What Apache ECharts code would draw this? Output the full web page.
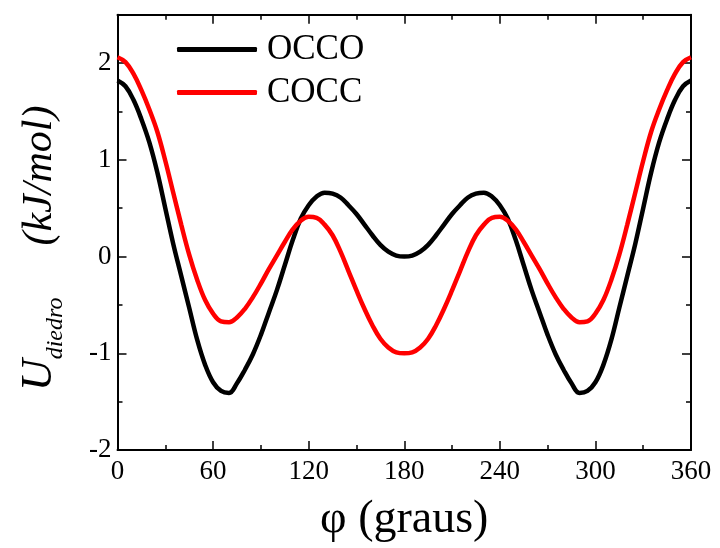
<!DOCTYPE html>
<html>
<head>
<meta charset="utf-8">
<script src="https://cdn.jsdelivr.net/npm/echarts@6/dist/echarts.min.js"></script>
<style>html,body{margin:0;padding:0;background:#fff;}#c{width:720px;height:548px;}</style>
</head>
<body>
<div id="c"></div>
<script>
const angles = [0,5,10,15,20,25,30,35,40,45,50,55,60,65,70,75,80,85,90,95,100,105,110,115,120,125,130,135,140,145,150,155,160,165,170,175,180,
  185,190,195,200,205,210,215,220,225,230,235,240,245,250,255,260,265,270,275,280,285,290,295,300,305,310,315,320,325,330,335,340,345,350,355,360];
const occo = [1.82,1.76,1.62,1.42,1.18,0.87,0.50,0.13,-0.20,-0.53,-0.86,-1.12,-1.30,-1.39,-1.41,-1.31,-1.17,-1.01,-0.81,-0.58,-0.35,-0.09,0.17,0.39,0.53,0.62,0.66,0.65,0.61,0.53,0.44,0.33,0.22,0.12,0.05,0.01,0.00,
  0.01,0.05,0.12,0.22,0.33,0.44,0.53,0.61,0.65,0.66,0.62,0.53,0.39,0.17,-0.09,-0.35,-0.58,-0.81,-1.01,-1.17,-1.31,-1.41,-1.39,-1.30,-1.12,-0.86,-0.53,-0.20,0.13,0.50,0.87,1.18,1.42,1.62,1.76,1.82];
const cocc = [2.06,2.01,1.89,1.72,1.52,1.29,0.99,0.66,0.33,0.02,-0.24,-0.45,-0.59,-0.67,-0.68,-0.63,-0.54,-0.42,-0.28,-0.13,0.01,0.15,0.28,0.37,0.41,0.40,0.33,0.22,0.05,-0.15,-0.35,-0.54,-0.71,-0.85,-0.94,-0.99,-1.00,
  -0.99,-0.94,-0.85,-0.71,-0.54,-0.35,-0.15,0.05,0.22,0.33,0.40,0.41,0.37,0.28,0.15,0.01,-0.13,-0.28,-0.42,-0.54,-0.63,-0.68,-0.67,-0.59,-0.45,-0.24,0.02,0.33,0.66,0.99,1.29,1.52,1.72,1.89,2.01,2.06];
const seriesNames = ['OCCO','COCC'];
const xTicks = {min:0, max:360, interval:60};
const yTicks = {min:-2, max:2.5, interval:1};

const font = '"Liberation Serif", "Times New Roman", serif';
const chart = echarts.init(document.getElementById('c'), null, {renderer:'canvas'});
const axisLine = {show:true, onZero:false, lineStyle:{color:'#000', width:2}};
const tickStyle = {show:true, inside:true, length:9, lineStyle:{color:'#000', width:1.5}};
const minorStyle = {show:true, splitNumber:2, length:5, lineStyle:{color:'#000', width:1.5}};
function pairs(vals){ return angles.map((a,i)=>[a, vals[i]]); }
chart.setOption({
  animation:false,
  backgroundColor:'#fff',
  grid:{left:117.5, right:29, top:14.7, bottom:93, containLabel:false},
  legend:{
    show:true, orient:'vertical', left:172, top:27, itemGap:8,
    itemWidth:80, itemHeight:5, icon:'roundRect',
    textStyle:{fontFamily:font, fontSize:35, color:'#000', lineHeight:35, padding:[0,0,0,5]},
    data:seriesNames
  },
  xAxis:[{
    type:'value', min:xTicks.min, max:xTicks.max, interval:xTicks.interval,
    axisLine:axisLine, axisTick:tickStyle, minorTick:minorStyle, splitLine:{show:false}, minorSplitLine:{show:false},
    axisLabel:{fontFamily:font, fontSize:27, color:'#000', margin:8},
    name:'φ (graus)', nameLocation:'middle', nameGap:47,
    nameTextStyle:{fontFamily:font, fontSize:46, color:'#000'}
  },{
    type:'value', position:'top', min:xTicks.min, max:xTicks.max, interval:xTicks.interval,
    axisLine:axisLine, axisTick:tickStyle, minorTick:minorStyle, splitLine:{show:false},
    axisLabel:{show:false}
  }],
  yAxis:[{
    type:'value', min:yTicks.min, max:yTicks.max, interval:yTicks.interval,
    axisLine:axisLine, axisTick:tickStyle, minorTick:minorStyle, splitLine:{show:false},
    axisLabel:{fontFamily:font, fontSize:27, color:'#000', margin:6, showMaxLabel:false},
    name:'{u|U}{s|diedro}{p|(kJ/mol)}', nameLocation:'middle', nameGap:50, nameRotate:90,
    nameTextStyle:{
      fontFamily:font, color:'#000', padding:[0,32,0,0],
      rich:{
        u:{fontFamily:font, fontStyle:'italic', fontSize:44, lineHeight:56, verticalAlign:'middle'},
        s:{fontFamily:font, fontStyle:'italic', fontSize:24, lineHeight:20, verticalAlign:'bottom'},
        p:{fontFamily:font, fontStyle:'italic', fontSize:42, lineHeight:56, verticalAlign:'middle', padding:[0,0,0,52]}
      }
    }
  },{
    type:'value', position:'right', min:yTicks.min, max:yTicks.max, interval:yTicks.interval,
    axisLine:axisLine, axisTick:tickStyle, minorTick:minorStyle, splitLine:{show:false},
    axisLabel:{show:false}
  }],
  series:[
    {name:seriesNames[0], type:'line', data:pairs(occo), smooth:0.4, symbol:'none', z:3,
     lineStyle:{color:'#000', width:4.5}, itemStyle:{color:'#000'}},
    {name:seriesNames[1], type:'line', data:pairs(cocc), smooth:0.4, symbol:'none', z:4,
     lineStyle:{color:'#ff0000', width:4.5}, itemStyle:{color:'#ff0000'}}
  ]
});
</script>
</body>
</html>
